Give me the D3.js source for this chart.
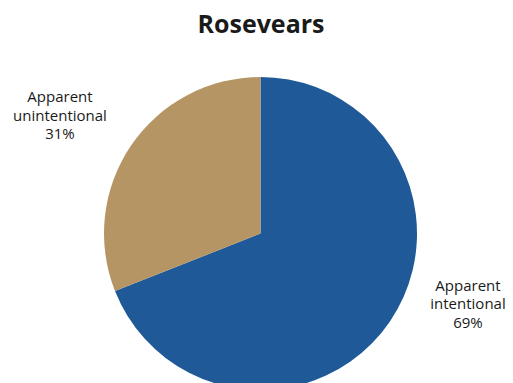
<!DOCTYPE html>
<html>
<head>
  <script src="https://cdn.jsdelivr.net/npm/d3@7/dist/d3.min.js"></script>
  <style>
    body { margin: 0; background: #fff; }
    text { font-family: "Open Sans", "Noto Sans", sans-serif; fill: #1a1a1a; }
  </style>
</head>
<body>
  <div id="chart"></div>
  <script>
    const categories = ["Apparent intentional", "Apparent unintentional"];
    const values = [69, 31];
    const colors = ["#1f5998", "#b59563"];
    // label line splits
    const labelLines = [["Apparent", "intentional", "69%"], ["Apparent", "unintentional", "31%"]];

    const width = 513, height = 383;
    const cx = 260.5, cy = 233.5, radius = 156.5;

    const svg = d3.select("#chart").append("svg")
      .attr("width", width)
      .attr("height", height);

    svg.append("text")
      .attr("x", 261)
      .attr("y", 33)
      .attr("text-anchor", "middle")
      .style("font-size", "25px")
      .style("font-weight", "bold")
      .text("Rosevears");

    const g = svg.append("g")
      .attr("transform", `translate(${cx},${cy})`);

    const pie = d3.pie().sort(null).value(d => d);
    const arc = d3.arc().innerRadius(0).outerRadius(radius);
    const arcs = pie(values);

    g.selectAll("path")
      .data(arcs)
      .enter().append("path")
      .attr("d", arc)
      .attr("fill", (d, i) => colors[i]);

    // labels placed outside the pie, nudged like the original
    const labelArc = d3.arc().innerRadius(240).outerRadius(240);
    const nudge = [[9, -64], [-2, 17]];

    arcs.forEach((d, i) => {
      const [x, y] = labelArc.centroid(d);
      const t = g.append("text")
        .attr("text-anchor", "middle")
        .style("font-size", "15px")
        .attr("transform", `translate(${x + nudge[i][0]},${y + nudge[i][1]})`);
      labelLines[i].forEach((line, j) => {
        t.append("tspan")
          .attr("x", 0)
          .attr("y", (j - 1) * 18.5 + 5)
          .text(line);
      });
    });
  </script>
</body>
</html>
